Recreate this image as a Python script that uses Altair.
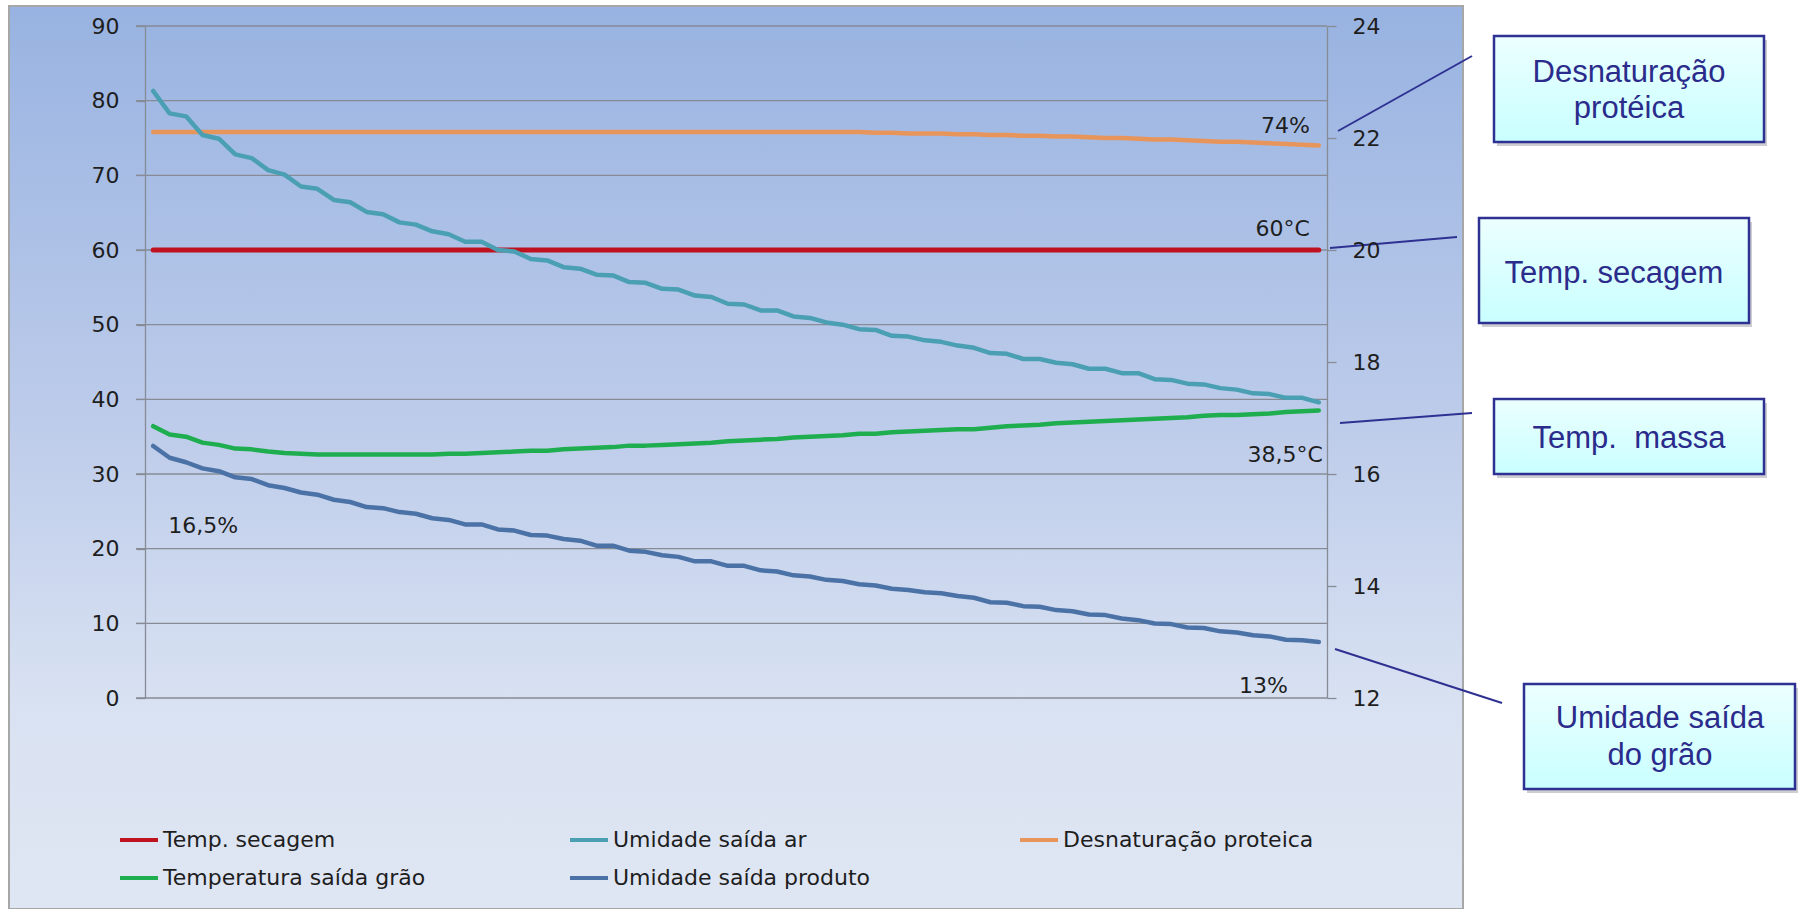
import altair as alt
import pandas as pd

# ---------------------------------------------------------------------------
# Data: 72 sampling steps along the drying run
# ---------------------------------------------------------------------------
passo = list(range(72))

temp_secagem = [
    60.0, 60.0, 60.0, 60.0, 60.0, 60.0, 60.0, 60.0, 60.0, 60.0, 60.0, 60.0,
    60.0, 60.0, 60.0, 60.0, 60.0, 60.0, 60.0, 60.0, 60.0, 60.0, 60.0, 60.0,
    60.0, 60.0, 60.0, 60.0, 60.0, 60.0, 60.0, 60.0, 60.0, 60.0, 60.0, 60.0,
    60.0, 60.0, 60.0, 60.0, 60.0, 60.0, 60.0, 60.0, 60.0, 60.0, 60.0, 60.0,
    60.0, 60.0, 60.0, 60.0, 60.0, 60.0, 60.0, 60.0, 60.0, 60.0, 60.0, 60.0,
    60.0, 60.0, 60.0, 60.0, 60.0, 60.0, 60.0, 60.0, 60.0, 60.0, 60.0, 60.0,
]

umidade_ar = [
    81.3, 78.3, 77.9, 75.4, 74.9, 72.8, 72.3, 70.7, 70.1, 68.5, 68.2, 66.7,
    66.4, 65.1, 64.8, 63.7, 63.4, 62.5, 62.1, 61.1, 61.1, 60.0, 59.8, 58.8,
    58.6, 57.7, 57.5, 56.7, 56.6, 55.7, 55.6, 54.8, 54.7, 53.9, 53.7, 52.8,
    52.7, 51.9, 51.9, 51.1, 50.9, 50.3, 50.0, 49.4, 49.3, 48.5, 48.4, 47.9,
    47.7, 47.2, 46.9, 46.2, 46.1, 45.4, 45.4, 44.9, 44.7, 44.1, 44.1, 43.5,
    43.5, 42.7, 42.6, 42.1, 42.0, 41.5, 41.3, 40.8, 40.7, 40.2, 40.2, 39.6,
]

desnaturacao = [
    75.8, 75.8, 75.8, 75.8, 75.8, 75.8, 75.8, 75.8, 75.8, 75.8, 75.8, 75.8,
    75.8, 75.8, 75.8, 75.8, 75.8, 75.8, 75.8, 75.8, 75.8, 75.8, 75.8, 75.8,
    75.8, 75.8, 75.8, 75.8, 75.8, 75.8, 75.8, 75.8, 75.8, 75.8, 75.8, 75.8,
    75.8, 75.8, 75.8, 75.8, 75.8, 75.8, 75.8, 75.8, 75.7, 75.7, 75.6, 75.6,
    75.6, 75.5, 75.5, 75.4, 75.4, 75.3, 75.3, 75.2, 75.2, 75.1, 75.0, 75.0,
    74.9, 74.8, 74.8, 74.7, 74.6, 74.5, 74.5, 74.4, 74.3, 74.2, 74.1, 74.0,
]

temp_grao = [
    36.4, 35.3, 35.0, 34.2, 33.9, 33.4, 33.3, 33.0, 32.8, 32.7, 32.6, 32.6,
    32.6, 32.6, 32.6, 32.6, 32.6, 32.6, 32.7, 32.7, 32.8, 32.9, 33.0, 33.1,
    33.1, 33.3, 33.4, 33.5, 33.6, 33.8, 33.8, 33.9, 34.0, 34.1, 34.2, 34.4,
    34.5, 34.6, 34.7, 34.9, 35.0, 35.1, 35.2, 35.4, 35.4, 35.6, 35.7, 35.8,
    35.9, 36.0, 36.0, 36.2, 36.4, 36.5, 36.6, 36.8, 36.9, 37.0, 37.1, 37.2,
    37.3, 37.4, 37.5, 37.6, 37.8, 37.9, 37.9, 38.0, 38.1, 38.3, 38.4, 38.5,
]

# right-hand axis (%)
umidade_produto = [
    16.5, 16.29, 16.21, 16.10, 16.05, 15.94, 15.91, 15.80, 15.75, 15.67, 15.63, 15.54,
    15.50, 15.41, 15.39, 15.32, 15.29, 15.21, 15.18, 15.10, 15.10, 15.01, 14.99, 14.91,
    14.90, 14.84, 14.81, 14.72, 14.72, 14.63, 14.61, 14.55, 14.52, 14.44, 14.44, 14.36,
    14.36, 14.28, 14.26, 14.19, 14.17, 14.11, 14.09, 14.03, 14.01, 13.95, 13.93, 13.89,
    13.87, 13.82, 13.79, 13.71, 13.70, 13.64, 13.63, 13.57, 13.55, 13.49, 13.48, 13.42,
    13.39, 13.33, 13.32, 13.26, 13.25, 13.19, 13.17, 13.12, 13.10, 13.04, 13.03, 13.0,
]

series_names = [
    "Temp. secagem",
    "Umidade saída ar",
    "Desnaturação proteica",
    "Temperatura saída grão",
    "Umidade saída produto",
]
series_colors = ["#c0111f", "#4a9fb3", "#e8955c", "#1fae4f", "#4b72a6"]

left_ticks = [0, 10, 20, 30, 40, 50, 60, 70, 80, 90]
right_ticks = [12, 14, 16, 18, 20, 22, 24]

# ---------------------------------------------------------------------------
rows = []
for name, vals in [
    ("Temp. secagem", temp_secagem),
    ("Umidade saída ar", umidade_ar),
    ("Desnaturação proteica", desnaturacao),
    ("Temperatura saída grão", temp_grao),
    ("Umidade saída produto", umidade_produto),
]:
    for i, v in zip(passo, vals):
        rows.append({"passo": i, "serie": name, "valor": v})
df = pd.DataFrame(rows)

W, H = 1182, 672
FONT = "DejaVu Sans"
GRID = "#868b95"
INK = "#1e1e1e"

x_enc = alt.X("passo:Q", scale=alt.Scale(domain=[-0.5, 71.5], nice=False, zero=False), axis=None)

color_enc = alt.Color(
    "serie:N",
    scale=alt.Scale(domain=series_names, range=series_colors),
    legend=alt.Legend(
        title=None,
        orient="none",
        direction="horizontal",
        legendX=-27,
        legendY=793,
        columns=3,
        gridAlign="all",
        columnPadding=136,
        rowPadding=6,
        padding=0,
        symbolType="stroke",
        symbolSize=1444,
        symbolStrokeWidth=4,
        labelOffset=3,
        labelFont=FONT,
        labelFontSize=22,
        labelColor=INK,
        labelLimit=600,
    ),
)

left_scale = alt.Scale(domain=[0, 90], nice=False)
right_scale = alt.Scale(domain=[12, 24], nice=False, zero=False)

# axes drawn above the panel background; the horizontal grid is a rule layer
y_left = alt.Y(
    "valor:Q",
    scale=left_scale,
    axis=alt.Axis(
        orient="left", title=None, values=left_ticks, grid=False, zindex=1,
        domainColor=GRID, domainWidth=1.3,
        tickColor=GRID, tickSize=9, tickWidth=1.3, labelPadding=17,
        labelFont=FONT, labelFontSize=22, labelColor=INK,
    ),
)
y_right = alt.Y(
    "valor:Q",
    scale=right_scale,
    axis=alt.Axis(
        orient="right", title=None, values=right_ticks, grid=False, zindex=1,
        domainColor=GRID, domainWidth=1.3, tickColor=GRID, tickSize=9,
        tickWidth=1.3, labelPadding=16, labelFont=FONT, labelFontSize=22,
        labelColor=INK,
    ),
)

grid = (
    alt.Chart(pd.DataFrame({"valor": left_ticks}))
    .mark_rule(color=GRID, strokeWidth=1.3)
    .encode(y=y_left, x=alt.value(-9), x2=alt.value(W))
)


def serie_line(name, y_enc, width):
    return (
        alt.Chart(df)
        .transform_filter(alt.datum.serie == name)
        .mark_line(strokeWidth=width, strokeJoin="round", strokeCap="round")
        .encode(x=x_enc, y=y_enc, color=color_enc)
    )


def value_label(text, pos, val, y_enc, align, dx, dy):
    d = pd.DataFrame({"passo": [pos], "valor": [val], "texto": [text]})
    return (
        alt.Chart(d)
        .mark_text(align=align, baseline="alphabetic", dx=dx, dy=dy,
                   font=FONT, fontSize=22, color=INK)
        .encode(x=x_enc, y=y_enc, text="texto:N")
    )


left = alt.layer(
    grid,
    serie_line("Temp. secagem", y_left, 5),
    serie_line("Desnaturação proteica", y_left, 4.5),
    serie_line("Umidade saída ar", y_left, 4.5),
    serie_line("Temperatura saída grão", y_left, 4.5),
    value_label("74%", 71, desnaturacao[-1], y_left, "right", -9, -12),
    value_label("60°C", 71, temp_secagem[-1], y_left, "right", -9, -14),
    value_label("38,5°C", 71, temp_grao[-1], y_left, "right", 4, 51),
)

right = alt.layer(
    serie_line("Umidade saída produto", y_right, 4.5),
    value_label("16,5%", 0, umidade_produto[0], y_right, "left", 15, 87),
    value_label("13%", 71, umidade_produto[-1], y_right, "right", -31, 51),
)

one = pd.DataFrame({"k": [0]})

# chart panel background with vertical blue gradient
panel = alt.Chart(one).mark_rect(
    fill={
        "gradient": "linear", "x1": 0, "x2": 0, "y1": 0, "y2": 1,
        "stops": [
            {"offset": 0.0, "color": "#98b3e1"},
            {"offset": 0.45, "color": "#bccbea"},
            {"offset": 0.78, "color": "#d9e2f2"},
            {"offset": 1.0, "color": "#dfe6f3"},
        ],
    },
    stroke="#a7a7a7",
    strokeWidth=2,
).encode(x=alt.value(-136), x2=alt.value(1318), y=alt.value(-20), y2=alt.value(883))

# callout boxes with leader lines
callouts = [
    {"box": (1349, 10, 1619, 116), "text": ["Desnaturação", "protéica"],
     "tx": 1484, "ty": 56, "lh": 36, "lead": (1193, 105, 1327, 30)},
    {"box": (1334, 192, 1604, 297), "text": ["Temp. secagem"],
     "tx": 1469, "ty": 257, "lh": 36, "lead": (1185, 222, 1312, 211)},
    {"box": (1349, 373, 1619, 448), "text": ["Temp.\u00a0 massa"],
     "tx": 1484, "ty": 422, "lh": 36, "lead": (1195, 397, 1327, 387)},
    {"box": (1379, 658, 1650, 763), "text": ["Umidade saída", "do grão"],
     "tx": 1515, "ty": 702, "lh": 37, "lead": (1190, 623, 1357, 677)},
]
NAVY = "#2e3192"
box_fill = {
    "gradient": "linear", "x1": 0, "x2": 0, "y1": 0, "y2": 1,
    "stops": [{"offset": 0, "color": "#ecffff"}, {"offset": 1, "color": "#c9ffff"}],
}

notes = []
for c in callouts:
    x0, y0, x1, y1 = c["box"]
    lx0, ly0, lx1, ly1 = c["lead"]
    notes.append(
        alt.Chart(one).mark_rule(color=NAVY, strokeWidth=2).encode(
            x=alt.value(lx0), y=alt.value(ly0), x2=alt.value(lx1), y2=alt.value(ly1))
    )
    notes.append(
        alt.Chart(one).mark_rect(fill="#6f6f7f", opacity=0.35).encode(
            x=alt.value(x0 + 3), y=alt.value(y0 + 4), x2=alt.value(x1 + 3), y2=alt.value(y1 + 4))
    )
    notes.append(
        alt.Chart(one).mark_rect(fill=box_fill, stroke=NAVY, strokeWidth=2.5).encode(
            x=alt.value(x0), y=alt.value(y0), x2=alt.value(x1), y2=alt.value(y1))
    )
    notes.append(
        alt.Chart(one).mark_text(
            text=c["text"], align="center", baseline="alphabetic",
            font="Liberation Sans", fontSize=31, lineHeight=c["lh"], color="#2b2b8c",
        ).encode(x=alt.value(c["tx"]), y=alt.value(c["ty"]))
    )

chart = (
    alt.layer(panel, left, right, *notes)
    .resolve_scale(y="independent")
    .properties(
        width=W,
        height=H,
        padding={"left": 145, "top": 26, "right": 475, "bottom": 211},
        autosize=alt.AutoSizeParams(type="none"),
        background="white",
    )
    .configure_view(strokeWidth=0)
)

chart.save("out.html", embed_options={"renderer": "svg", "actions": False})
